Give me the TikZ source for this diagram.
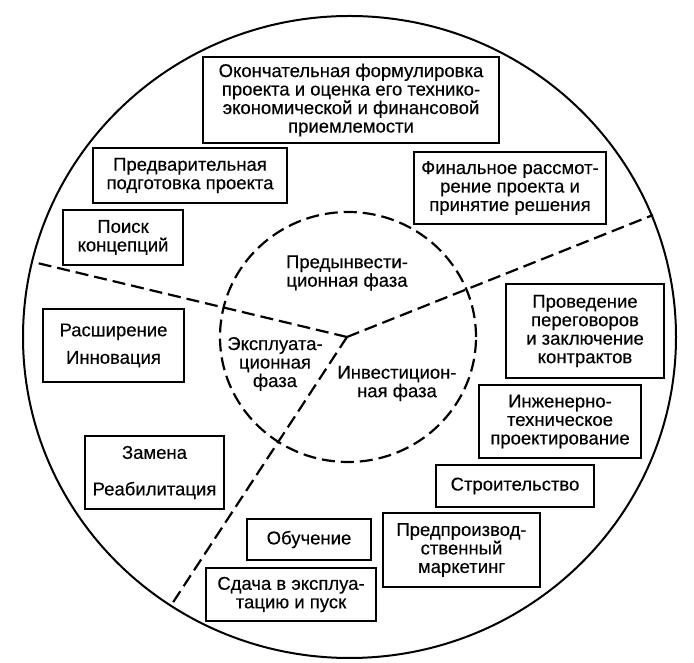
\documentclass[tikz,border=0pt]{standalone}
\usepackage{fontspec}
\setmainfont[FakeBold=0.3]{Liberation Sans}

\begin{document}
\begin{tikzpicture}[x=1pt,y=1pt,
	font=\fontsize{18.5}{18.5}\selectfont,
	stage/.style={draw, line width=2.3pt, align=center, inner sep=0pt},
	phase/.style={align=center, inner sep=0pt},
	phaseline/.style={dash pattern=on 13pt off 6pt, line width=2.2pt}]
	\useasboundingbox (0,0) rectangle (694,663);
	\draw[line width=2pt] (349.5,326) ellipse [x radius=326.5, y radius=321];
	\draw[phaseline] (348,326) ellipse [x radius=128, y radius=125];
	\coordinate (hub) at (347,326);
	\coordinate (westend) at (33,401);
	\coordinate (eastend) at (653,448);
	\coordinate (southend) at (170,56);
	\draw[phaseline] (hub) -- (westend);
	\draw[phaseline] (hub) -- (eastend);
	\draw[phaseline] (hub) -- (southend);
	\node[phase] (preinvest) at (347,390) {Предынвести-\\ционная фаза};
	\node[phase] (operation) at (275,299) {Эксплуата-\\ционная\\фаза};
	\node[phase] (investment) at (397,279.5) {Инвестицион-\\ная фаза};
	\node[stage, minimum width=296pt, minimum height=86pt] (formulation) at (351,563)
		{Окончательная формулировка\\проекта и оценка его технико-\\экономической и финансовой\\приемлемости};
	\node[stage, minimum width=194pt, minimum height=55pt] (prepare) at (190,487.5)
		{Предварительная\\подготовка проекта};
	\node[stage, minimum width=192pt, minimum height=72pt] (review) at (510,475)
		{Финальное рассмот-\\рение проекта и\\принятие решения};
	\node[stage, minimum width=120pt, minimum height=55pt] (search) at (123,425.5)
		{Поиск\\концепций};
	\node[stage, minimum width=141pt, minimum height=73pt] (expand) at (113.5,317.5)
		{Расширение\\[9pt]Инновация};
	\node[stage, minimum width=158pt, minimum height=94pt] (negotiate) at (585,332)
		{Проведение\\переговоров\\и заключение\\контрактов};
	\node[stage, minimum width=162pt, minimum height=73pt] (engineer) at (560,241.5)
		{Инженерно-\\техническое\\проектирование};
	\node[stage, minimum width=139pt, minimum height=73pt] (replace) at (154.5,190.5)
		{Замена\\[18pt]Реабилитация};
	\node[stage, minimum width=158pt, minimum height=42pt] (build) at (515,177)
		{Строительство};
	\node[stage, minimum width=124pt, minimum height=41pt] (train) at (309,123.5)
		{Обучение};
	\node[stage, minimum width=157pt, minimum height=74pt] (market) at (461.5,113)
		{Предпроизвод-\\ственный\\маркетинг};
	\node[stage, minimum width=170pt, minimum height=53pt] (launch) at (291,68.5)
		{Сдача в эксплуа-\\тацию и пуск};
\end{tikzpicture}
\end{document}
